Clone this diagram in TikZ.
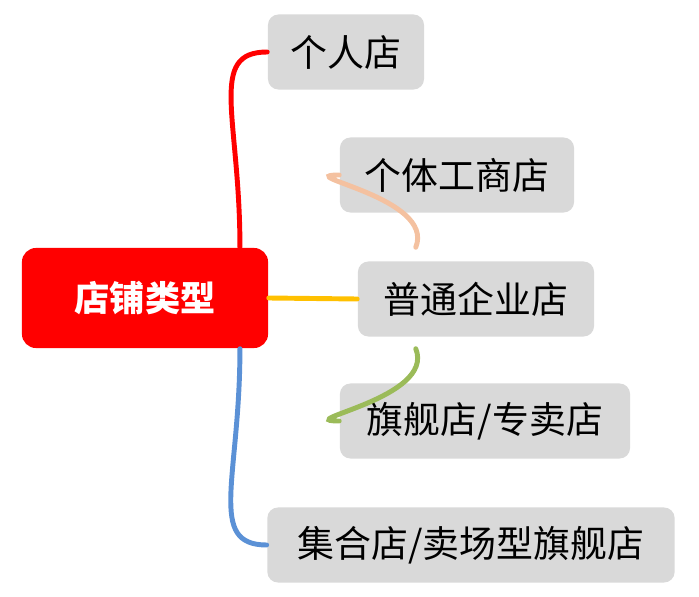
\documentclass[tikz,border=0pt]{standalone}
\usepackage{fontspec}
\setmainfont{Noto Sans CJK SC}
\usetikzlibrary{positioning}
\definecolor{leafgray}{RGB}{217,217,217}
\definecolor{peach}{RGB}{244,193,160}
\definecolor{gold}{RGB}{255,192,0}
\definecolor{leafgreen}{RGB}{155,187,89}
\definecolor{skyblue}{RGB}{91,145,214}
\tikzset{
  rootbox/.style={fill=red,rounded corners=4pt,text=white,font=\fontsize{10}{12}\selectfont\bfseries,minimum width=2.46cm,minimum height=1cm,inner sep=0pt},
  leafbox/.style={fill=leafgray,rounded corners=3pt,font=\fontsize{10.5}{12}\selectfont,minimum height=0.75cm,inner sep=0pt},
  branch/.style={line width=1.4pt,line cap=round}
}
\begin{document}
\begin{tikzpicture}[x=0.01cm,y=-0.01cm]
	\useasboundingbox (0,0) rectangle (699,597);
	\node[rootbox] (root) at (145,298) {店铺类型};
	\node[leafbox,minimum width=1.56cm] (l1) at (346,52) {个人店};
	\node[leafbox,minimum width=2.34cm] (l2) at (457,175) {个体工商店};
	\node[leafbox,minimum width=2.36cm] (l3) at (476,299) {普通企业店};
	\node[leafbox,minimum width=2.90cm] (l4) at (485,421) {旗舰店/专卖店};
	\node[leafbox,minimum width=4.07cm] (l5) at (471,545) {集合店/卖场型旗舰店};
	% branches
	\draw[branch,red] ([xshift=27]root.north) .. controls +(0,-130) and +(-60,0) .. (l1.west);
	\draw[branch,peach] ([xshift=77]root.north) .. controls +(20,-50) and +(-50,0) .. (l2.west);
	\draw[branch,gold] (root.east) -- (l3.west);
	\draw[branch,leafgreen] ([xshift=77]root.south) .. controls +(20,50) and +(-50,0) .. (l4.west);
	\draw[branch,skyblue] ([xshift=27]root.south) .. controls +(0,130) and +(-60,0) .. (l5.west);
\end{tikzpicture}
\end{document}
